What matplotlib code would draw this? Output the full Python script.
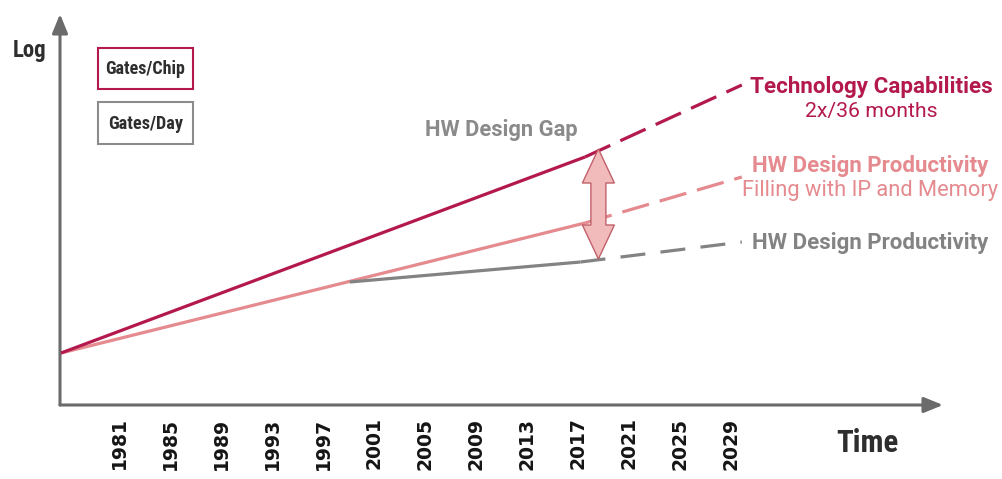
import matplotlib
matplotlib.use("Agg")
import matplotlib.pyplot as plt
from matplotlib import font_manager
from matplotlib.patches import Polygon, Rectangle
from matplotlib.transforms import IdentityTransform

# ---------------- data ----------------
tick_years = [1981, 1985, 1989, 1993, 1997, 2001, 2005, 2009, 2013, 2017, 2021, 2025, 2029]
tick_labels = [str(y) for y in tick_years]

tech_solid_years = [1976.45, 2017.55]
tech_solid_vals = [5.2, 24.8]
tech_dash_years = [2017.55, 2029.85]
tech_dash_vals = [24.8, 32.0]

ip_solid_years = [1976.45, 2017.55]
ip_solid_vals = [5.2, 18.2]
ip_dash_years = [2017.55, 2029.85]
ip_dash_vals = [18.2, 22.8]

hw_solid_years = [1999.1, 2017.2]
hw_solid_vals = [12.3, 14.3]
hw_dash_years = [2017.2, 2029.85]
hw_dash_vals = [14.3, 16.3]

gap_year = 2018.6
gap_top = 25.6
gap_bottom = 14.6

x_range = [1976.37, 2045.63]
y_range = [0, 39.1]

# ---------------- style ----------------
CRIMSON = "#B3194D"
PINK = "#E58A8E"
GRAY = "#838383"
AXIS = "#6B6B6B"
DARK = "#2E2E2E"
ARROW_FILL = "#F2BBBB"
ARROW_EDGE = "#C0606A"

avail = {f.name for f in font_manager.fontManager.ttflist}


def pick(*names):
    for n in names:
        if n in avail:
            return n
    return "DejaVu Sans"


CFONT = pick("Roboto Condensed", "Liberation Sans Narrow", "Roboto", "Liberation Sans")
RFONT = pick("Roboto", "Open Sans", "Liberation Sans")
TICKFONT = "DejaVu Sans"
plt.rcParams["lines.scale_dashes"] = False

W, H = 1003, 479
fig = plt.figure(figsize=(W / 100, H / 100), dpi=100)
ax = fig.add_axes([60 / W, 1 - 405 / H, (943 - 60) / W, (405 - 14) / H])
ax.set_xlim(*x_range)
ax.set_ylim(*y_range)
for s in ax.spines.values():
    s.set_visible(False)
ax.set_yticks([])
ax.set_xticks(tick_years)
ax.set_xticklabels(tick_labels, rotation=90, fontfamily=TICKFONT, fontweight="bold",
                   fontsize=13.5, color="#151515", va="top")
ax.tick_params(axis="x", length=0, pad=9)

# axis arrows
arrow_kw = dict(arrowstyle="-|>,head_length=1.15,head_width=0.47", color=AXIS, lw=2.2,
                shrinkA=0, shrinkB=0, mutation_scale=10)
ax.annotate("", xy=(1, 0), xytext=(0, 0), xycoords="axes fraction", textcoords="axes fraction",
            arrowprops=arrow_kw, annotation_clip=False)
ax.annotate("", xy=(0, 1), xytext=(0, 0), xycoords="axes fraction", textcoords="axes fraction",
            arrowprops=arrow_kw, annotation_clip=False)

# lines
lw = 2.3
ax.plot(tech_solid_years, tech_solid_vals, color=CRIMSON, lw=lw, solid_capstyle="butt", zorder=3)
ax.plot(tech_dash_years, tech_dash_vals, color=CRIMSON, lw=lw, dashes=(20, 8), zorder=3)
ax.plot(ip_solid_years, ip_solid_vals, color=PINK, lw=lw, solid_capstyle="butt", zorder=2)
ax.plot(ip_dash_years, ip_dash_vals, color=PINK, lw=lw, dashes=(20, 8), zorder=2)
ax.plot(hw_solid_years, hw_solid_vals, color=GRAY, lw=lw, solid_capstyle="butt", zorder=2.5)
ax.plot(hw_dash_years, hw_dash_vals, color=GRAY, lw=lw, dashes=(18, 11), zorder=2.5)

# double-headed gap arrow, built in display space from data endpoints
fig.canvas.draw()
renderer = fig.canvas.get_renderer()
(xt, yt) = ax.transData.transform((gap_year, gap_top))
(xb, yb) = ax.transData.transform((gap_year, gap_bottom))
hw_half, hl, sw_half = 16, 34, 7.5
xc = (xt + xb) / 2
verts = [
    (xc, yt), (xc + hw_half, yt - hl), (xc + sw_half, yt - hl),
    (xc + sw_half, yb + hl), (xc + hw_half, yb + hl), (xc, yb),
    (xc - hw_half, yb + hl), (xc - sw_half, yb + hl), (xc - sw_half, yt - hl),
    (xc - hw_half, yt - hl),
]
poly = Polygon(verts, closed=True, facecolor=ARROW_FILL, edgecolor=ARROW_EDGE, lw=1.0,
               transform=IdentityTransform(), zorder=5, clip_on=False)
fig.add_artist(poly)


# texts (figure-fraction placement, sized to the reference width)
def ftext(px, py, s, width, family, **kw):
    t = fig.text(px / W, 1 - py / H, s, ha="center", va="center", fontfamily=family,
                 fontsize=12, **kw)
    bb = t.get_window_extent(renderer)
    t.set_fontsize(12 * width / bb.width)
    return t


ftext(29.5, 50, "Log", 34, CFONT, fontweight="bold", color=DARK)
ftext(867, 443, "Time", 62, CFONT, fontweight="bold", color=DARK)
ftext(501, 130, "HW Design Gap", 152, RFONT, fontweight="bold", color="#8A8A8A")
ftext(871, 87, "Technology Capabilities", 242, RFONT, fontweight="bold", color=CRIMSON)
ftext(871, 112, "2x/36 months", 132, RFONT, color=CRIMSON)
ftext(870.5, 166, "HW Design Productivity", 236, RFONT, fontweight="bold", color=PINK)
ftext(870.5, 191, "Filling with IP and Memory", 255, RFONT, color=PINK)
ftext(870.5, 243, "HW Design Productivity", 236, RFONT, fontweight="bold", color=GRAY)

# legend boxes
fig.add_artist(Rectangle((98 / W, 1 - 89 / H), 95 / W, 41 / H, transform=fig.transFigure,
                         facecolor="white", edgecolor=CRIMSON, lw=1.5))
fig.add_artist(Rectangle((98 / W, 1 - 144 / H), 95 / W, 42 / H, transform=fig.transFigure,
                         facecolor="white", edgecolor="#8C8C8C", lw=1.5))
ftext(145.5, 69, "Gates/Chip", 80, CFONT, fontweight="bold", color=DARK)
ftext(145.5, 124, "Gates/Day", 75, CFONT, fontweight="bold", color=DARK)

fig.savefig("out.png", dpi=100)
